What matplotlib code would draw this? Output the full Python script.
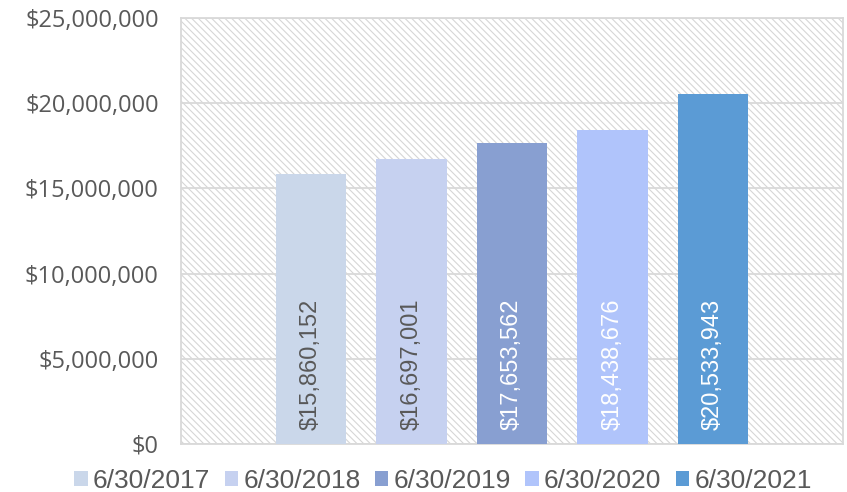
import matplotlib.pyplot as plt
import numpy as np
from matplotlib.patches import Rectangle
from matplotlib.ticker import FuncFormatter

dates = ['6/30/2017', '6/30/2018', '6/30/2019', '6/30/2020', '6/30/2021']
values = [15860152, 16697001, 17653562, 18438676, 20533943]
colors = ['#CAD7EA', '#C6D1F0', '#889FD1', '#B0C4FB', '#5B9BD5']
label_colors = ['#595959', '#595959', 'white', 'white', 'white']

plt.rcParams['hatch.linewidth'] = 0.8

fig = plt.figure(figsize=(8.47, 4.92), dpi=100)
ax = fig.add_axes([181 / 847, 1 - 444 / 492, 662 / 847, 426 / 492])

# hatched plot area
bg = Rectangle((0, 0), 1, 1, transform=ax.transAxes, facecolor='white',
               edgecolor='#D6D6D6', hatch='\\\\\\\\\\', linewidth=0, zorder=0)
ax.add_patch(bg)

x = np.arange(len(values))
bars = ax.bar(x, values, width=0.7, color=colors, zorder=3)
for i in range(len(values)):
    bars[i].set_label(dates[i])
    ax.text(x[i], 800000, '${:,}'.format(values[i]), rotation=90,
            ha='center', va='bottom', fontsize=17, color=label_colors[i],
            family='Liberation Sans', zorder=4)

ax.set_xlim(-1.29, 5.29)
ax.set_ylim(0, 25000000)
ax.set_yticks(np.arange(0, 25000001, 5000000))
ax.yaxis.set_major_formatter(FuncFormatter(lambda v, p: '${:,.0f}'.format(v)))
ax.set_xticks([])
ax.grid(axis='y', color='#D9D9D9', linewidth=1.3, zorder=1)
ax.set_axisbelow(True)
for s in ax.spines.values():
    s.set_color('#D9D9D9')
    s.set_linewidth(1.3)
ax.tick_params(axis='y', length=0, pad=16, labelsize=17, labelcolor='#595959')
for t in ax.get_yticklabels():
    t.set_family('Open Sans')

fig.legend(handles=list(bars), loc='lower center', bbox_to_anchor=(0.523, -0.05),
           ncol=5, frameon=False, handlelength=0.5, handleheight=0.5,
           handletextpad=0.2, columnspacing=0.55, labelcolor='#595959',
           prop={'family': 'Liberation Sans', 'size': 19})

fig.savefig('out.png', dpi=100)
